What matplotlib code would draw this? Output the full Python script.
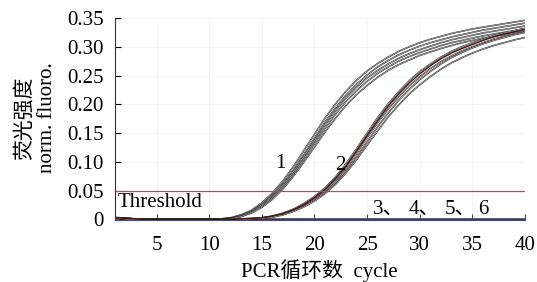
import numpy as np
import matplotlib
matplotlib.use("Agg")
import matplotlib.pyplot as plt

# 字體: 英文數字用襯線體, 中文退回 CJK
plt.rcParams['font.family'] = ['Liberation Serif', 'Noto Sans CJK SC']
plt.rcParams['axes.unicode_minus'] = False

# ==========================================
# 數據 (從圖上讀取, cycle 1..40)
# ==========================================
cycles = list(range(1, 41))

# 第 1 組 (陽性, Ct ~ 16.5)
g1_a = [0.004, 0.002, 0.001, 0.000, 0.000, 0.000, 0.000, 0.000, 0.000, 0.001,
        0.001, 0.003, 0.008, 0.016, 0.029, 0.046, 0.067, 0.092, 0.120, 0.148,
        0.176, 0.201, 0.223, 0.242, 0.258, 0.271, 0.282, 0.292, 0.300, 0.307,
        0.313, 0.318, 0.323, 0.327, 0.331, 0.334, 0.337, 0.340, 0.343, 0.346]
g1_b = [0.003, 0.002, 0.001, 0.000, 0.000, 0.000, 0.000, 0.000, 0.000, 0.000,
        0.001, 0.002, 0.007, 0.014, 0.026, 0.042, 0.062, 0.086, 0.113, 0.141,
        0.169, 0.194, 0.216, 0.235, 0.251, 0.265, 0.276, 0.286, 0.294, 0.301,
        0.307, 0.312, 0.317, 0.321, 0.325, 0.329, 0.332, 0.335, 0.338, 0.341]
g1_c = [0.003, 0.001, 0.000, 0.000, 0.000, 0.000, 0.000, 0.000, 0.000, 0.000,
        0.001, 0.002, 0.006, 0.013, 0.025, 0.040, 0.060, 0.083, 0.110, 0.137,
        0.164, 0.189, 0.211, 0.230, 0.246, 0.259, 0.270, 0.280, 0.288, 0.295,
        0.301, 0.307, 0.312, 0.316, 0.320, 0.324, 0.327, 0.330, 0.333, 0.336]
g1_d = [0.002, 0.001, 0.000, 0.000, 0.000, 0.000, 0.000, 0.000, 0.000, 0.000,
        0.000, 0.002, 0.005, 0.012, 0.023, 0.038, 0.057, 0.079, 0.105, 0.132,
        0.158, 0.183, 0.205, 0.224, 0.240, 0.254, 0.265, 0.275, 0.283, 0.290,
        0.296, 0.302, 0.307, 0.311, 0.315, 0.319, 0.322, 0.325, 0.328, 0.331]
g1_e = [0.002, 0.001, 0.000, 0.000, 0.000, 0.000, 0.000, 0.000, 0.000, 0.000,
        0.000, 0.001, 0.005, 0.011, 0.021, 0.035, 0.053, 0.075, 0.100, 0.126,
        0.152, 0.176, 0.198, 0.217, 0.233, 0.247, 0.259, 0.269, 0.277, 0.285,
        0.291, 0.297, 0.302, 0.307, 0.311, 0.315, 0.318, 0.321, 0.324, 0.327]

# 第 2 組 (陽性, Ct ~ 21)
g2_a = [0.003, 0.002, 0.001, 0.000, 0.000, 0.000, 0.000, 0.000, 0.000, 0.000,
        0.000, 0.000, 0.001, 0.002, 0.003, 0.006, 0.011, 0.018, 0.028, 0.040,
        0.055, 0.074, 0.097, 0.123, 0.150, 0.177, 0.201, 0.222, 0.241, 0.257,
        0.270, 0.282, 0.292, 0.300, 0.307, 0.313, 0.319, 0.324, 0.328, 0.332]
g2_b = [0.003, 0.001, 0.000, 0.000, 0.000, 0.000, 0.000, 0.000, 0.000, 0.000,
        0.000, 0.000, 0.001, 0.001, 0.003, 0.005, 0.010, 0.016, 0.025, 0.036,
        0.050, 0.068, 0.090, 0.115, 0.142, 0.168, 0.192, 0.213, 0.232, 0.248,
        0.262, 0.274, 0.284, 0.293, 0.300, 0.307, 0.313, 0.318, 0.322, 0.326]
g2_c = [0.002, 0.001, 0.000, 0.000, 0.000, 0.000, 0.000, 0.000, 0.000, 0.000,
        0.000, 0.000, 0.000, 0.001, 0.002, 0.005, 0.009, 0.015, 0.023, 0.034,
        0.047, 0.064, 0.085, 0.109, 0.135, 0.161, 0.185, 0.207, 0.226, 0.243,
        0.257, 0.270, 0.281, 0.290, 0.298, 0.305, 0.311, 0.316, 0.321, 0.325]
g2_d = [0.002, 0.001, 0.000, 0.000, 0.000, 0.000, 0.000, 0.000, 0.000, 0.000,
        0.000, 0.000, 0.000, 0.001, 0.002, 0.004, 0.008, 0.014, 0.022, 0.032,
        0.045, 0.061, 0.081, 0.104, 0.129, 0.154, 0.178, 0.199, 0.218, 0.234,
        0.248, 0.261, 0.272, 0.281, 0.289, 0.296, 0.302, 0.307, 0.312, 0.316]
g2_e = [0.003, 0.002, 0.001, 0.000, 0.000, 0.000, 0.000, 0.000, 0.000, 0.000,
        0.000, 0.000, 0.001, 0.002, 0.003, 0.006, 0.010, 0.017, 0.026, 0.038,
        0.052, 0.071, 0.093, 0.119, 0.146, 0.172, 0.197, 0.218, 0.237, 0.253,
        0.267, 0.279, 0.289, 0.297, 0.304, 0.311, 0.317, 0.322, 0.326, 0.330]

# 陰性對照 3~6 (貼著基線)
neg = [0.003, 0.002, 0.001, 0.000, 0.000, 0.000, 0.000, 0.000, 0.000, 0.000,
       0.000, 0.000, 0.000, 0.000, 0.000, 0.000, 0.000, 0.000, 0.000, 0.000,
       0.000, 0.000, 0.000, 0.000, 0.000, 0.000, 0.000, 0.000, 0.000, 0.000,
       0.000, 0.000, 0.000, 0.000, 0.000, 0.000, 0.000, 0.000, 0.000, 0.000]

threshold = 0.05
x_ticks = [5, 10, 15, 20, 25, 30, 35, 40]
y_ticks = [0, 0.05, 0.10, 0.15, 0.20, 0.25, 0.30, 0.35]
y_ticklabels = ['0', '0.05', '0.10', '0.15', '0.20', '0.25', '0.30', '0.35']

# ==========================================
# 繪圖
# ==========================================
FS = 15
fig = plt.figure(figsize=(5.37, 2.82), dpi=100)
ax = fig.add_axes([114.5 / 537, 62.5 / 282, 410.5 / 537, 201.5 / 282])

# 陰性對照
for _ in range(4):
    ax.plot(cycles, neg, color='#3a3a5a', lw=1.2)

# 陽性曲線: 黑邊白芯, 仿原圖的雙線效果
for ys in [g1_a, g1_b, g1_c, g1_d, g1_e, g2_a, g2_b, g2_c, g2_d]:
    ax.plot(cycles, ys, color='#222222', lw=1.1)
    ax.plot(cycles, ys, color='white', lw=0.3)
ax.plot(cycles, g2_e, color='#4a1515', lw=1.0)

# 閾值線
ax.axhline(threshold, color='#b05050', lw=0.9)
ax.text(1.3, 0.029, 'Threshold', fontsize=FS, va='center', ha='left')

# 曲線編號
ax.text(16.8, 0.097, '1', fontsize=FS, ha='center', va='center')
ax.text(22.5, 0.093, '2', fontsize=FS, ha='center', va='center')
ax.text(25.6, 0.018, '3、', fontsize=FS, ha='left', va='center')
ax.text(28.9, 0.018, '4、', fontsize=FS, ha='left', va='center')
ax.text(32.4, 0.018, '5、', fontsize=FS, ha='left', va='center')
ax.text(35.5, 0.018, '6', fontsize=FS, ha='left', va='center')

ax.set_xlim(1, 40)
ax.set_ylim(0, 0.35)
ax.set_xticks(x_ticks)
ax.set_yticks(y_ticks)
ax.set_yticklabels(y_ticklabels)
ax.tick_params(axis='both', direction='in', length=4, width=0.8, labelsize=FS)
ax.tick_params(axis='x', pad=12, colors='#4a4a6a', labelcolor='black')
ax.tick_params(axis='y', pad=8)

for side in ['top', 'right']:
    ax.spines[side].set_visible(False)
ax.spines['bottom'].set_color('#4a4a6a')
ax.spines['left'].set_color('#333333')
ax.grid(color='#f3f3f3', lw=0.6)
ax.set_axisbelow(True)

ax.set_xlabel('PCR循环数  cycle', fontsize=FS, labelpad=3)
fig.text(25 / 537, 1 - 118 / 282, '荧光强度', rotation=90, fontsize=FS,
         ha='center', va='center')
fig.text(48 / 537, 1 - 118 / 282, 'norm. fluoro.', rotation=90, fontsize=FS,
         ha='center', va='center')

fig.savefig('out.png', dpi=100)
